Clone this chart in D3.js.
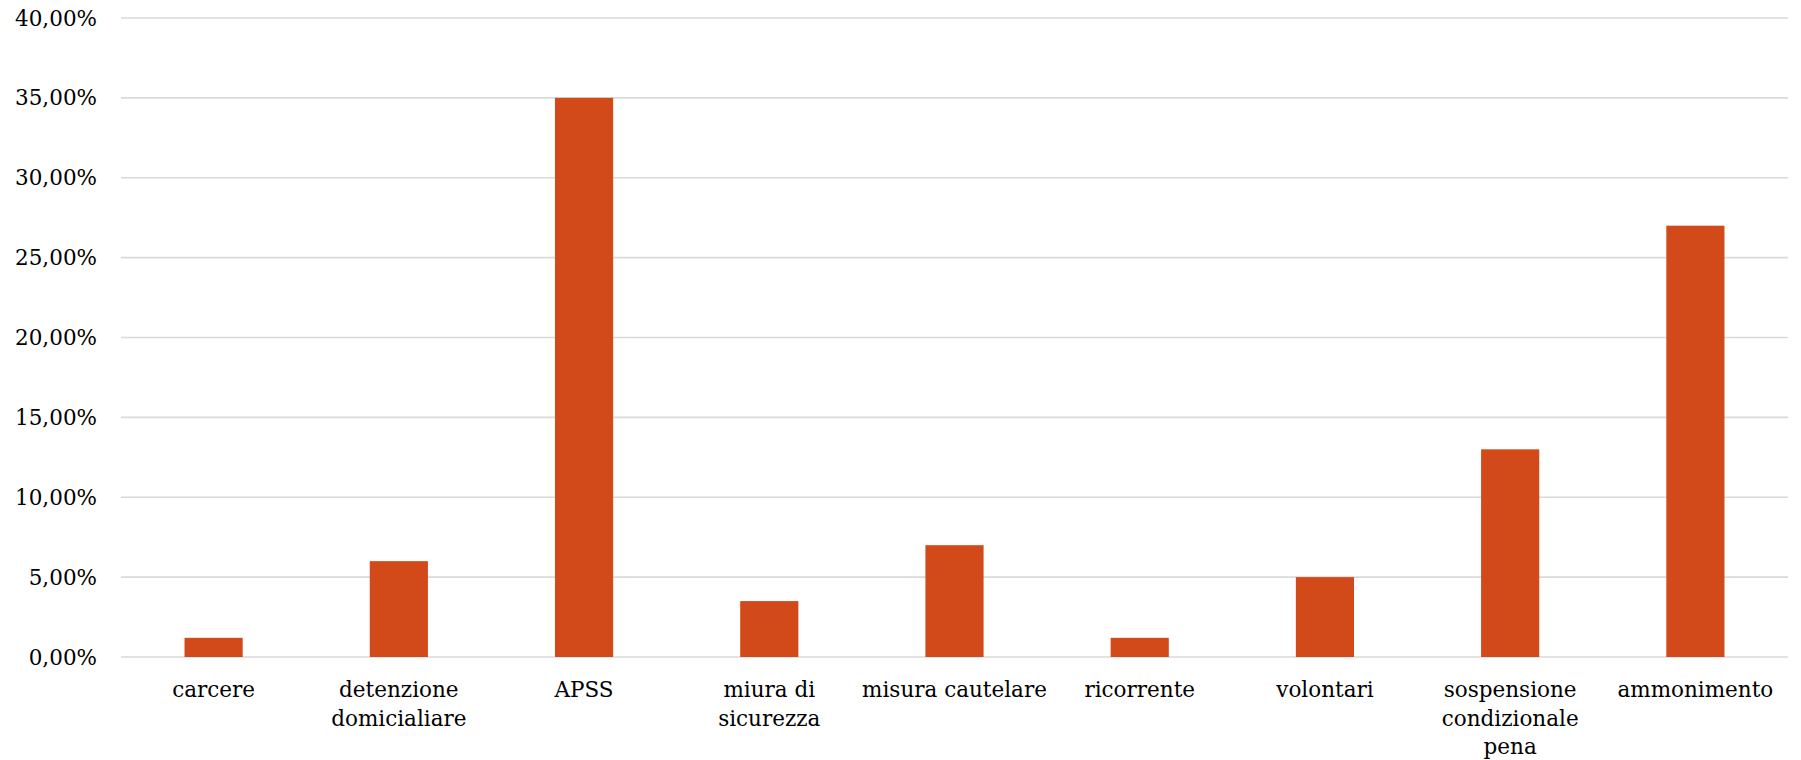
<!DOCTYPE html>
<html>
<head>
<meta charset="utf-8">
<script src="https://cdn.jsdelivr.net/npm/d3@7"></script>
<style>
  body { margin: 0; background: #fff; }
  svg { display: block; }
  text { font-family: Rockwell, "DejaVu Serif", serif; fill: #000; }
</style>
</head>
<body>
<svg id="chart"></svg>
<script>
var width = 1801, height = 760

var categories = ["carcere", "detenzione domicialiare", "APSS", "miura di sicurezza",
    "misura cautelare", "ricorrente", "volontari", "sospensione condizionale pena", "ammonimento"]
var labelLines = [["carcere"], ["detenzione", "domicialiare"], ["APSS"], ["miura di", "sicurezza"],
    ["misura cautelare"], ["ricorrente"], ["volontari"], ["sospensione", "condizionale", "pena"], ["ammonimento"]]
var values = [0.012, 0.06, 0.35, 0.035, 0.07, 0.012, 0.05, 0.13, 0.27]
var yTicks = [0, 0.05, 0.10, 0.15, 0.20, 0.25, 0.30, 0.35, 0.40]

var margin = {top: 18, right: 13, bottom: 103, left: 121}

var svg = d3.select("#chart")
    .attr("width", width)
    .attr("height", height)

var g = svg.append("g")
    .attr("transform", "translate(" + margin.left + "," + margin.top + ")")

var w = width - margin.left - margin.right
var h = height - margin.top - margin.bottom

var x = d3.scaleBand()
    .domain(categories)
    .range([0, w])
    .paddingInner(0.686)
    .paddingOuter(0.343)

var y = d3.scaleLinear()
    .domain([0, 0.4])
    .range([h, 0])

var fmt = d => (d * 100).toFixed(2).replace(".", ",") + "%"

// gridlines
g.append("g")
    .selectAll("line")
    .data(yTicks)
    .enter()
    .append("line")
        .attr("x1", 0)
        .attr("x2", w)
        .attr("y1", d => y(d))
        .attr("y2", d => y(d))
        .attr("stroke", "#d9d9d9")
        .attr("stroke-width", 1.6)

// y labels
g.append("g")
    .selectAll("text")
    .data(yTicks)
    .enter()
    .append("text")
        .attr("x", -24)
        .attr("y", d => y(d))
        .attr("dy", "0.35em")
        .attr("text-anchor", "end")
        .attr("font-size", 21.5)
        .text(fmt)

// bars
g.append("g")
    .selectAll("rect")
    .data(values)
    .enter()
    .append("rect")
        .attr("x", (d, i) => x(categories[i]))
        .attr("y", d => y(d))
        .attr("width", x.bandwidth())
        .attr("height", d => h - y(d))
        .attr("fill", "#d24a19")

// category labels
var labels = g.append("g")
    .selectAll("text")
    .data(categories)
    .enter()
    .append("text")
        .attr("x", d => x(d) + x.bandwidth() / 2)
        .attr("y", h + 40)
        .attr("text-anchor", "middle")
        .attr("font-size", 21.5)

labels.selectAll("tspan")
    .data((d, i) => labelLines[i])
    .enter()
    .append("tspan")
        .attr("x", function() { return d3.select(this.parentNode).attr("x") })
        .attr("dy", (d, i) => i == 0 ? 0 : 28.5)
        .text(d => d)
</script>
</body>
</html>
